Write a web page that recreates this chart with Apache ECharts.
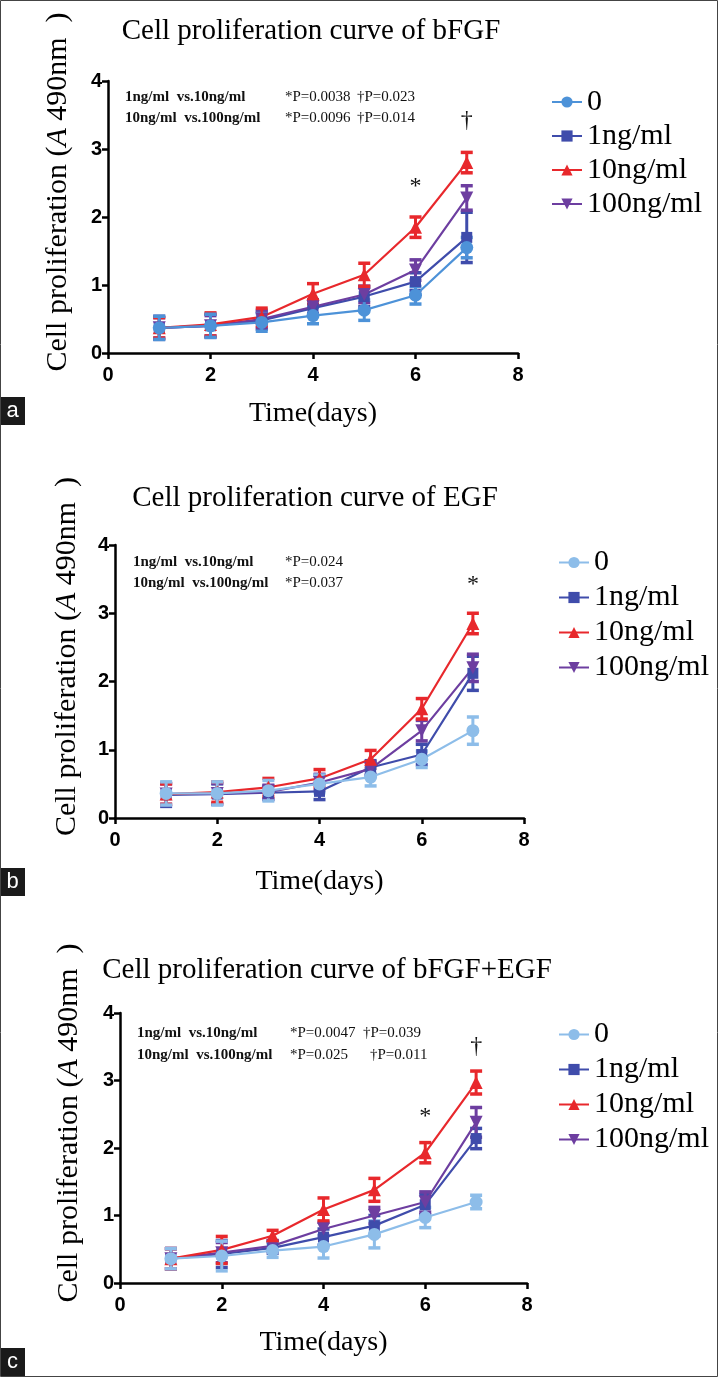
<!DOCTYPE html>
<html>
<head>
<meta charset="utf-8">
<script src="https://cdn.jsdelivr.net/npm/echarts@6/dist/echarts.min.js"></script>
<style>
html,body{margin:0;padding:0;background:#fff;}
#chart{width:718px;height:1377px;}
</style>
</head>
<body>
<div id="chart"></div>
<script>
// ---------- data ----------
const days = [1, 2, 3, 4, 5, 6, 7];
const groupNames = ['0', '1ng/ml', '10ng/ml', '100ng/ml'];
const panelTitles = ['Cell proliferation curve of bFGF', 'Cell proliferation curve of EGF', 'Cell proliferation curve of bFGF+EGF'];
const panelLetters = ['a', 'b', 'c'];
const xTickMin = 0, xTickMax = 8, xTickStep = 2;
const yTickMin = 0, yTickMax = 4, yTickStep = 1;

// Panel a: bFGF
const bfgf_0 = [0.37, 0.40, 0.45, 0.55, 0.63, 0.85, 1.55];
const bfgf_0_err = [0.17, 0.17, 0.13, 0.12, 0.15, 0.13, 0.15];
const bfgf_1 = [0.37, 0.40, 0.48, 0.66, 0.83, 1.05, 1.70];
const bfgf_1_err = [0.17, 0.17, 0.13, 0.12, 0.15, 0.13, 0.37];
const bfgf_10 = [0.37, 0.42, 0.53, 0.87, 1.15, 1.85, 2.80];
const bfgf_10_err = [0.15, 0.17, 0.13, 0.15, 0.17, 0.15, 0.15];
const bfgf_100 = [0.37, 0.40, 0.50, 0.68, 0.86, 1.22, 2.28];
const bfgf_100_err = [0.15, 0.15, 0.13, 0.10, 0.12, 0.15, 0.18];

// Panel b: EGF
const egf_0 = [0.36, 0.36, 0.40, 0.50, 0.60, 0.86, 1.28];
const egf_0_err = [0.17, 0.17, 0.15, 0.13, 0.13, 0.12, 0.20];
const egf_1 = [0.34, 0.35, 0.37, 0.39, 0.74, 0.93, 2.12];
const egf_1_err = [0.17, 0.15, 0.10, 0.12, 0.10, 0.15, 0.25];
const egf_10 = [0.35, 0.38, 0.45, 0.58, 0.86, 1.60, 2.85];
const egf_10_err = [0.15, 0.15, 0.13, 0.13, 0.13, 0.15, 0.15];
const egf_100 = [0.35, 0.36, 0.38, 0.52, 0.72, 1.28, 2.20];
const egf_100_err = [0.15, 0.15, 0.10, 0.12, 0.10, 0.15, 0.20];

// Panel c: bFGF+EGF
const both_0 = [0.36, 0.40, 0.48, 0.54, 0.72, 0.97, 1.20];
const both_0_err = [0.15, 0.22, 0.10, 0.17, 0.20, 0.15, 0.10];
const both_1 = [0.36, 0.43, 0.52, 0.68, 0.85, 1.16, 2.14];
const both_1_err = [0.15, 0.20, 0.08, 0.12, 0.15, 0.15, 0.15];
const both_10 = [0.36, 0.49, 0.70, 1.09, 1.38, 1.93, 2.97];
const both_10_err = [0.15, 0.20, 0.08, 0.17, 0.17, 0.15, 0.17];
const both_100 = [0.36, 0.45, 0.55, 0.80, 1.00, 1.20, 2.38];
const both_100_err = [0.15, 0.15, 0.08, 0.10, 0.12, 0.15, 0.22];

// statistics text
const statsA = [['1ng/ml  vs.10ng/ml', '*P=0.0038', '†P=0.023'], ['10ng/ml  vs.100ng/ml', '*P=0.0096', '†P=0.014']];
const statsB = [['1ng/ml  vs.10ng/ml', '*P=0.024', ''], ['10ng/ml  vs.100ng/ml', '*P=0.037', '']];
const statsC = [['1ng/ml  vs.10ng/ml', '*P=0.0047', '†P=0.039'], ['10ng/ml  vs.100ng/ml', '*P=0.025', '†P=0.011']];

// significance marks [day, level, symbol]
const sigA = [[6, 2.45, '*'], [7, 3.42, '†']];
const sigB = [[7, 3.42, '*']];
const sigC = [[6, 2.47, '*'], [7, 3.50, '†']];

// ---------- layout / style ----------
const SERIF = '"Liberation Serif","Times New Roman",serif';
const SANS = '"Liberation Sans",Arial,sans-serif';
const symbols = ['circle', 'rect', 'triangle', 'path://M0,0 L10,0 L5,9 Z'];
const colorsA = ['#4d92d8', '#3f4cab', '#e8282c', '#6d3ea0'];
const colorsBC = ['#8dbde9', '#3f4cab', '#e8282c', '#6d3ea0'];

const panels = [
  { grid: { left: 108, top: 81, width: 410, height: 272 }, vals: [bfgf_0, bfgf_1, bfgf_10, bfgf_100], errs: [bfgf_0_err, bfgf_1_err, bfgf_10_err, bfgf_100_err], colors: colorsA,
    title: { x: 306, y: 12 }, legendTop: 80, legendLeft: 546, legendLH: 34, stats: statsA, statsX: [125, 285, 357, 357], statsY: [97, 118], sig: sigA, yNameGap: 35, xNameGap: 47, letterY: 397 },
  { grid: { left: 115, top: 545, width: 409, height: 273 }, vals: [egf_0, egf_1, egf_10, egf_100], errs: [egf_0_err, egf_1_err, egf_10_err, egf_100_err], colors: colorsBC,
    title: { x: 310, y: 479 }, legendTop: 540, legendLeft: 553, legendLH: 35, stats: statsB, statsX: [133, 285, 360, 360], statsY: [562, 583], sig: sigB, yNameGap: 33, xNameGap: 50, letterY: 868 },
  { grid: { left: 120, top: 1013, width: 407, height: 270 }, vals: [both_0, both_1, both_10, both_100], errs: [both_0_err, both_1_err, both_10_err, both_100_err], colors: colorsBC,
    title: { x: 322, y: 951 }, legendTop: 1012, legendLeft: 553, legendLH: 35, stats: statsC, statsX: [137, 290, 363, 370], statsY: [1033, 1055], sig: sigC, yNameGap: 36, xNameGap: 46, letterY: 1348 }
];

const option = { backgroundColor: '#fff', animation: false, grid: [], xAxis: [], yAxis: [], series: [], legend: [], title: [], graphic: [] };

function errRender(color) {
  return function (params, api) {
    const x = api.value(0), lo = api.value(1), hi = api.value(2);
    const p1 = api.coord([x, lo]), p2 = api.coord([x, hi]);
    const hw = 6;
    const st = { stroke: color, lineWidth: 3 };
    const cap = { stroke: color, lineWidth: 3.5 };
    return { type: 'group', children: [
      { type: 'line', shape: { x1: p1[0], y1: p1[1], x2: p2[0], y2: p2[1] }, style: st },
      { type: 'line', shape: { x1: p1[0] - hw, y1: p1[1], x2: p1[0] + hw, y2: p1[1] }, style: cap },
      { type: 'line', shape: { x1: p2[0] - hw, y1: p2[1], x2: p2[0] + hw, y2: p2[1] }, style: cap }
    ] };
  };
}

panels.forEach((p, i) => {
  option.grid.push(p.grid);
  const axisLine = { show: true, lineStyle: { color: '#000', width: 2.5 } };
  const axisTick = { show: true, inside: false, length: 6, lineStyle: { color: '#000', width: 2.5 } };
  option.xAxis.push({
    gridIndex: i, type: 'value', min: xTickMin, max: xTickMax, interval: xTickStep,
    axisLine, axisTick, splitLine: { show: false },
    axisLabel: { color: '#000', fontFamily: SANS, fontWeight: 'bold', fontSize: 20, margin: 12 },
    name: 'Time(days)', nameLocation: 'middle', nameGap: p.xNameGap,
    nameTextStyle: { color: '#000', fontFamily: SERIF, fontSize: 28 }
  });
  option.yAxis.push({
    gridIndex: i, type: 'value', min: yTickMin, max: yTickMax, interval: yTickStep,
    axisLine, axisTick, splitLine: { show: false },
    axisLabel: { color: '#000', fontFamily: SANS, fontWeight: 'bold', fontSize: 20, margin: 6 },
    name: 'Cell proliferation ({i|A} 490nm  )', nameLocation: 'middle', nameGap: p.yNameGap, nameRotate: 90,
    nameTextStyle: { color: '#000', fontFamily: SERIF, fontSize: 30, padding: [0, 0, 0, 50],
      rich: { i: { fontFamily: SERIF, fontSize: 30, fontStyle: 'italic', color: '#000' } } }
  });
  const order = [1, 3, 2, 0];
  const legendData = [];
  groupNames.forEach((g, k) => legendData.push(panelLetters[i] + ':' + g));
  order.forEach(k => {
    const color = p.colors[k];
    const name = panelLetters[i] + ':' + groupNames[k];
    option.series.push({
      type: 'custom', name: name + '-err', xAxisIndex: i, yAxisIndex: i,
      renderItem: errRender(color), itemStyle: { color },
      data: days.map((d, j) => [d, p.vals[k][j] - p.errs[k][j], p.vals[k][j] + p.errs[k][j]]),
      z: 2, silent: true
    });
    option.series.push({
      type: 'line', name, xAxisIndex: i, yAxisIndex: i,
      data: days.map((d, j) => [d, p.vals[k][j]]),
      symbol: symbols[k], symbolSize: k === 1 ? 11 : 13,
      showSymbol: true,
      lineStyle: { color, width: 2.2 }, itemStyle: { color },
      z: 3, silent: true
    });
  });
  // significance marks
  const sig = p.sig;
  option.series.push({
    type: 'custom', name: 'sig' + i, xAxisIndex: i, yAxisIndex: i, silent: true, z: 5,
    data: sig.map(s => [s[0], s[1]]),
    renderItem: (params, api) => {
      const pt = api.coord([api.value(0), api.value(1)]);
      return { type: 'text', x: pt[0], y: pt[1], style: { text: sig[params.dataIndex][2], fill: '#111', font: '24px ' + SERIF, align: 'center', verticalAlign: 'middle' } };
    }
  });
  option.legend.push({
    data: legendData, orient: 'vertical', left: p.legendLeft, top: p.legendTop, itemGap: 0,
    itemWidth: 30, itemHeight: 14, itemTextGap: 13, selectedMode: false,
    formatter: n => n.split(':')[1],
    textStyle: { color: '#000', fontFamily: SERIF, fontSize: 30, lineHeight: p.legendLH }
  });
  option.title.push({
    text: panelTitles[i], left: p.title.x, top: p.title.y, textAlign: 'center',
    textStyle: { color: '#000', fontFamily: SERIF, fontWeight: 'normal', fontSize: 29 }
  });
  // stats text
  p.stats.forEach((row, r) => {
    row.forEach((txt, c) => {
      if (!txt) return;
      option.graphic.push({
        type: 'text', x: p.statsX[c === 2 && r === 1 ? 3 : c], y: p.statsY[r],
        style: { text: txt, fill: '#111', font: (c === 0 ? 'bold ' : '') + '15px ' + SERIF, verticalAlign: 'middle' }
      });
    });
  });
  // panel letter
  option.graphic.push({ type: 'rect', shape: { x: 0, y: p.letterY, width: 25, height: 28 }, style: { fill: '#1a1a1a' } });
  option.graphic.push({ type: 'text', x: 12.5, y: p.letterY + 14, style: { text: panelLetters[i], fill: '#fff', font: '22px ' + SANS, align: 'center', verticalAlign: 'middle' } });
});

option.graphic.push({ type: 'rect', shape: { x: 0.5, y: 0.5, width: 717, height: 1376 }, style: { fill: 'none', stroke: '#444', lineWidth: 1 }, z: 100 });

const chart = echarts.init(document.getElementById('chart'), null, { renderer: 'canvas' });
chart.setOption(option);
</script>
</body>
</html>
